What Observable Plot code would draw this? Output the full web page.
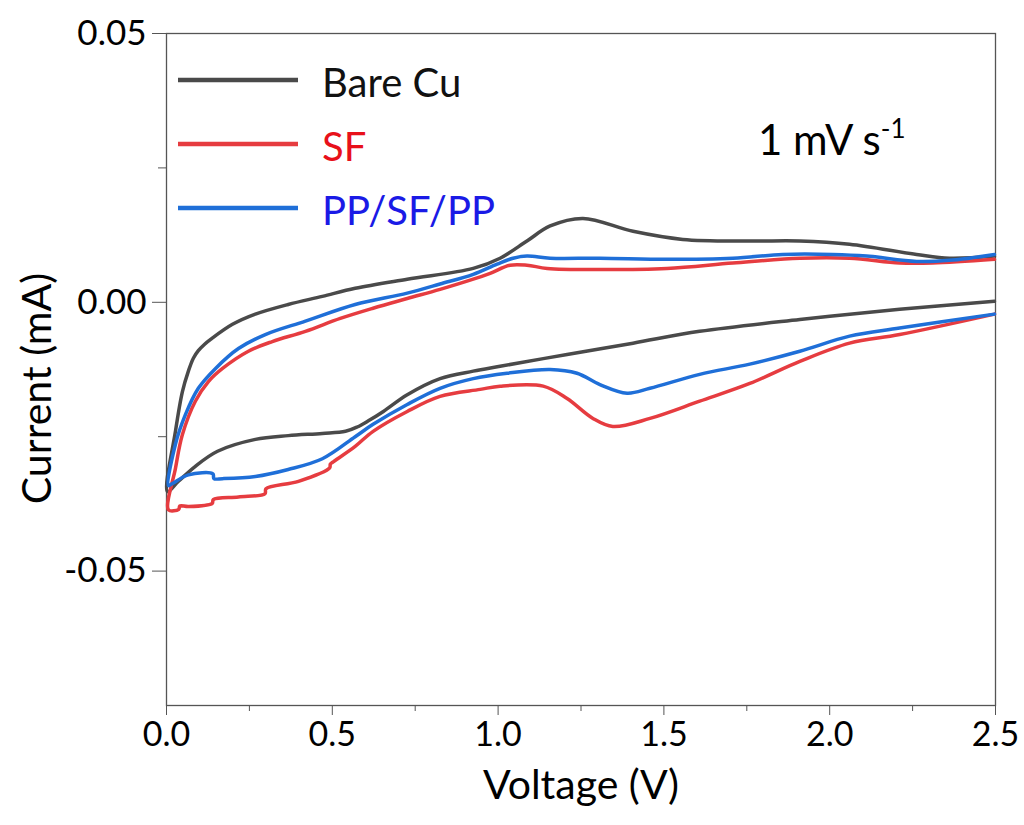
<!DOCTYPE html>
<html><head><meta charset="utf-8">
<script src="https://cdn.jsdelivr.net/npm/d3@7"></script>
<script src="https://cdn.jsdelivr.net/npm/@observablehq/plot@0.6"></script>
<style>body{margin:0;background:#fff;} #chart{position:relative;width:1024px;height:825px;}</style>
</head><body><div id="chart"></div>
<script>
const seriesNames = ["Bare Cu", "SF", "PP/SF/PP"];
const lineColors = ["#4a4a4a", "#e63c40", "#1f6fd8"];
const labelColors = ["#111111", "#e8101a", "#1a1ae6"];

// Bare Cu: cathodic scan 2.5 -> 0 V, then anodic scan 0 -> 2.5 V
const bareV = [2.497, 2.211, 1.910, 1.608, 1.407, 1.208, 1.006, 0.925, 0.825, 0.726, 0.654, 0.610, 0.575, 0.540, 0.470, 0.367, 0.268, 0.154, 0.087, 0.036, 0.003,
  0.027, 0.048, 0.066, 0.081, 0.096, 0.115, 0.133, 0.199, 0.268, 0.367, 0.470, 0.569, 0.726, 0.925, 1.006, 1.087, 1.157, 1.256, 1.407, 1.557, 1.759, 1.910, 2.060, 2.262, 2.361, 2.497];
const bareI = [0.0002, -0.0013, -0.0032, -0.0054, -0.0076, -0.0097, -0.0119, -0.0128, -0.0142, -0.0172, -0.0203, -0.0220, -0.0232, -0.0240, -0.0244, -0.0248, -0.0255, -0.0277, -0.0305, -0.0333, -0.0352,
  -0.0240, -0.0166, -0.0128, -0.0104, -0.0090, -0.0078, -0.0069, -0.0041, -0.0022, -0.0004, 0.0011, 0.0026, 0.0043, 0.0063, 0.0082, 0.0114, 0.0142, 0.0156, 0.0132, 0.0117, 0.0114, 0.0114, 0.0108, 0.0089, 0.0082, 0.0086];

// SF
const sfV = [2.497, 2.211, 2.060, 1.910, 1.759, 1.608, 1.458, 1.346, 1.286, 1.208, 1.136, 1.006, 0.946, 0.825, 0.726, 0.623, 0.569, 0.500, 0.494, 0.492, 0.398, 0.300, 0.297, 0.217, 0.141, 0.138, 0.066, 0.040, 0.037, 0.006,
  0.027, 0.048, 0.087, 0.127, 0.169, 0.247, 0.319, 0.419, 0.524, 0.623, 0.726, 0.825, 0.925, 0.976, 1.036, 1.087, 1.148, 1.307, 1.509, 1.708, 1.910, 2.060, 2.211, 2.310, 2.497];
const sfI = [-0.0022, -0.0060, -0.0076, -0.0110, -0.0151, -0.0184, -0.0216, -0.0231, -0.0216, -0.0179, -0.0156, -0.0156, -0.0162, -0.0175, -0.0203, -0.0240, -0.0268, -0.0298, -0.0301, -0.0308, -0.0333, -0.0347, -0.0356, -0.0362, -0.0367, -0.0374, -0.0380, -0.0379, -0.0385, -0.0386,
  -0.0309, -0.0246, -0.0184, -0.0147, -0.0123, -0.0091, -0.0073, -0.0054, -0.0030, -0.0011, 0.0007, 0.0024, 0.0043, 0.0054, 0.0069, 0.0069, 0.0063, 0.0061, 0.0063, 0.0073, 0.0082, 0.0082, 0.0073, 0.0073, 0.0080];

// PP/SF/PP
const ppV = [2.497, 2.211, 2.060, 1.910, 1.759, 1.608, 1.458, 1.389, 1.307, 1.238, 1.157, 1.027, 0.925, 0.825, 0.726, 0.623, 0.569, 0.470, 0.367, 0.268, 0.169, 0.143, 0.140, 0.066, 0.018, 0.006,
  0.027, 0.057, 0.096, 0.148, 0.217, 0.298, 0.419, 0.569, 0.726, 0.825, 0.925, 0.997, 1.045, 1.087, 1.157, 1.307, 1.509, 1.708, 1.858, 2.009, 2.111, 2.262, 2.361, 2.497];
const ppI = [-0.0022, -0.0048, -0.0063, -0.0091, -0.0115, -0.0134, -0.0160, -0.0169, -0.0153, -0.0132, -0.0125, -0.0132, -0.0142, -0.0160, -0.0190, -0.0227, -0.0250, -0.0291, -0.0311, -0.0324, -0.0328, -0.0328, -0.0319, -0.0321, -0.0337, -0.0341,
  -0.0264, -0.0209, -0.0160, -0.0123, -0.0086, -0.0060, -0.0035, -0.0004, 0.0017, 0.0034, 0.0052, 0.0071, 0.0082, 0.0086, 0.0082, 0.0082, 0.0080, 0.0082, 0.0089, 0.0089, 0.0086, 0.0076, 0.0078, 0.0089];

const xTicks = [0, 0.5, 1.0, 1.5, 2.0, 2.5];
const xMinorTicks = [0.25, 0.75, 1.25, 1.75, 2.25];
const yTicks = [-0.05, 0, 0.05];
const yMinorTicks = [-0.025, 0.025];
const xLabel = "Voltage (V)";
const yLabel = "Current (mA)";

const rows = [];
[[bareV, bareI], [sfV, sfI], [ppV, ppI]].forEach(([vs, is], k) =>
  vs.forEach((v, j) => rows.push({series: seriesNames[k], v, i: is[j]})));

const plot = Plot.plot({
  width: 1024, height: 825,
  marginLeft: 166, marginRight: 29, marginTop: 33, marginBottom: 120,
  style: {fontFamily: "Lato, sans-serif", fontSize: "34px", color: "#000", background: "#fff"},
  x: {domain: [0, 2.5]},
  y: {domain: [-0.075, 0.05]},
  color: {domain: seriesNames, range: lineColors},
  marks: [
    Plot.axisX(xTicks, {tickSize: 10, tickPadding: 6, tickFormat: d => d.toFixed(1), label: null, stroke: "#555", fontSize: 34}),
    Plot.axisX(xMinorTicks, {tickSize: 6, tickFormat: () => "", label: null, stroke: "#555"}),
    Plot.axisY(yTicks, {tickSize: 14, tickPadding: 6, tickFormat: d => d.toFixed(2), label: null, stroke: "#555", fontSize: 35}),
    Plot.axisY(yMinorTicks, {tickSize: 8, tickFormat: () => "", label: null, stroke: "#555"}),
    Plot.frame({stroke: "#555", strokeWidth: 1.3}),
    Plot.line(rows, {x: "v", y: "i", z: "series", stroke: "series", strokeWidth: 3.5, curve: "catmull-rom"}),
    Plot.text([xLabel], {frameAnchor: "bottom", lineAnchor: "middle", textAnchor: "middle", dy: 80, fontSize: 41, fill: "#000"}),
    Plot.text([yLabel], {frameAnchor: "left", lineAnchor: "middle", textAnchor: "middle", dx: -129, dy: 19, rotate: -90, fontSize: 41, fill: "#000"})
  ]
});

const svg = d3.select(plot);
const lg = svg.append("g").attr("font-family", "Lato, sans-serif").attr("text-anchor", "start");
seriesNames.forEach((name, k) => {
  const y = 80 + k * 64;
  lg.append("line").attr("x1", 178).attr("x2", 298).attr("y1", y).attr("y2", y)
    .attr("stroke", lineColors[k]).attr("stroke-width", 4.5);
  lg.append("text").attr("x", 322).attr("y", y + 17).attr("fill", labelColors[k])
    .attr("text-anchor", "start").attr("font-size", 40).text(name);
});
const ann = lg.append("text").attr("x", 758).attr("y", 155).attr("font-size", 42)
  .attr("text-anchor", "start").attr("fill", "#000");
ann.append("tspan").text("1 mV s");
ann.append("tspan").attr("font-size", 26).attr("dy", -17).text("-1");

document.getElementById("chart").appendChild(plot);
</script>
</body></html>
